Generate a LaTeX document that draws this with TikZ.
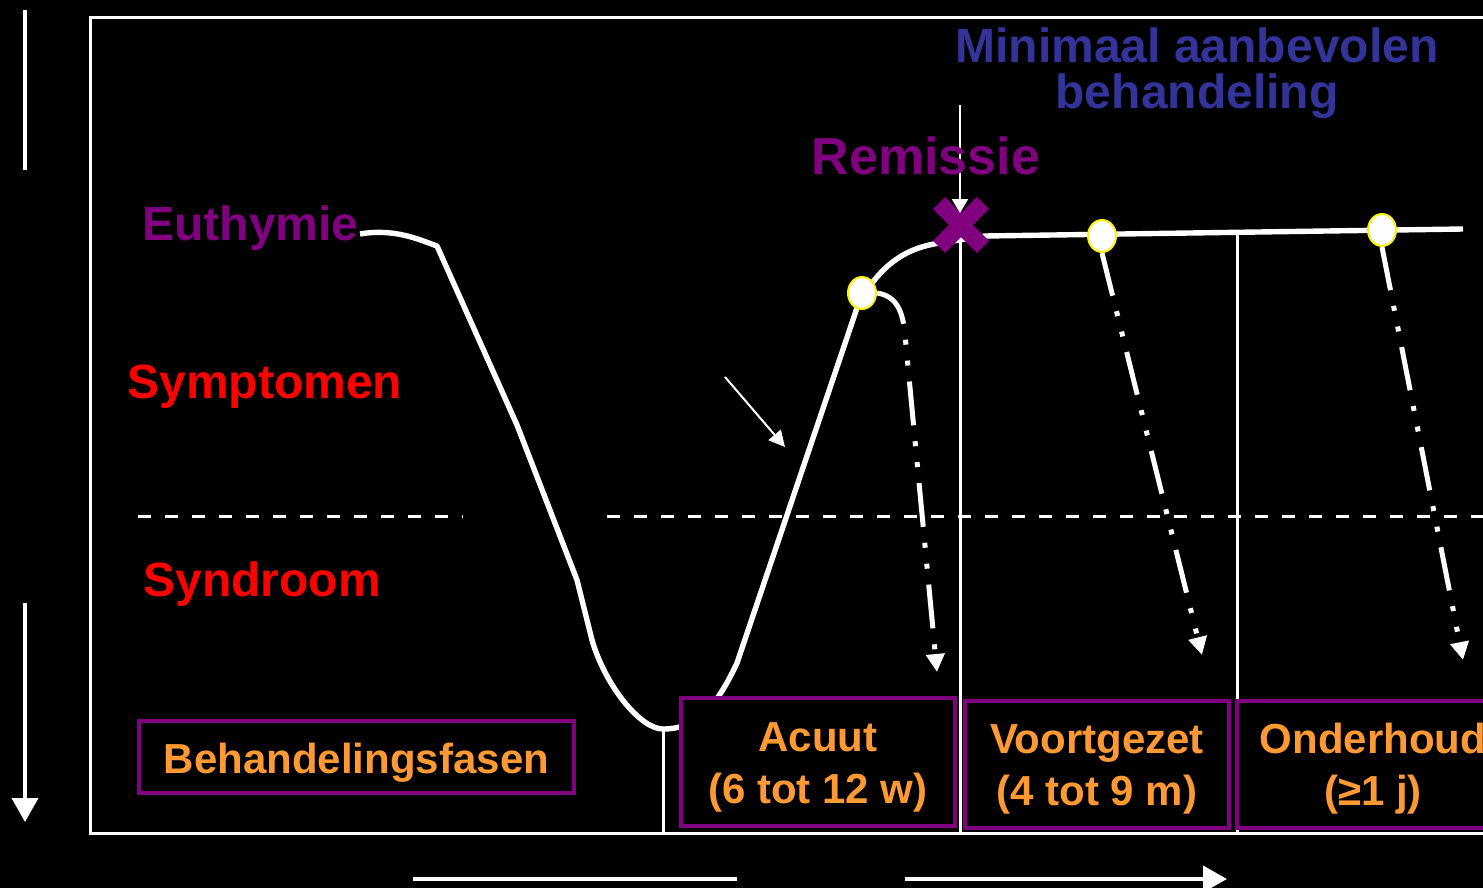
\documentclass[tikz,border=0pt]{standalone}
\usepackage{fontspec}
\setmainfont{Liberation Sans}
\usetikzlibrary{arrows.meta,positioning,shapes.geometric,shapes.misc}
\definecolor{paars}{HTML}{800080}
\definecolor{rood}{HTML}{FF0000}
\definecolor{blauw}{HTML}{333399}
\definecolor{oranje}{HTML}{FF9933}
\newcommand{\fasetekst}[2]{\raisebox{-2.5pt}[\height][\depth]{\begin{tabular}{@{}c@{}}#1\\#2\end{tabular}}}
\tikzset{
  fasebox/.style={draw=paars,fill=black,line width=2pt,text=oranje,inner sep=0pt,
    font=\fontsize{21}{26}\selectfont\bfseries},
  kop/.style={font=\fontsize{24}{23}\selectfont\bfseries,inner sep=0pt},
  punt/.style={ellipse,draw=yellow,fill=white,line width=1pt,minimum width=14pt,minimum height=16pt,inner sep=0pt},
  stippel/.style={white,line width=2.5pt,dash pattern=on 22pt off 8pt on 2.5pt off 8pt on 2.5pt off 8pt,
    -{Triangle[width=9pt,length=9pt]}},
  lijn/.style={white,line width=1.5pt},
  as/.style={white,line width=2pt}
}
\begin{document}
\begin{tikzpicture}[x=0.5pt,y=-0.5pt]
  \fill[black] (0,0) rectangle (1483,888);
  \useasboundingbox (0,0) rectangle (1483,888);
  % kader, assen en hulplijnen
  \draw[lijn] (1520,18) -- (90,18) -- (90,833) -- (1520,833);
  \draw[as] (25,10) -- (25,170);
  \draw[as,-{Triangle[width=13pt,length=12pt]}] (25,603) -- (25,822);
  \draw[as] (413,879) -- (737,879);
  \draw[as,-{Triangle[width=13pt,length=12pt]}] (905,879) -- (1227,879);
  \draw[lijn,dash pattern=on 6.5pt off 7pt] (138,516) -- (463,516);
  \draw[lijn,dash pattern=on 6.5pt off 7pt] (607,516) -- (1483,516);
  \draw[lijn] (663,730) -- (663,833);
  \draw[lijn] (960,240) -- (960,833);
  \draw[lijn] (1237,234) -- (1237,833);
  % verloop
  \draw[white,line width=2.7pt,line join=round] (360,234) .. controls (395,228) and (420,240) .. (437,246)
    -- (517,425) -- (577,580) -- (592,640) .. controls (605,685) and (640,729) .. (663,729)
    .. controls (695,729) and (715,710) .. (737,663) -- (858,305)
    .. controls (880,265) and (905,248) .. (940,243) -- (985,236) -- (1463,229);
  \node (punt1) [punt] at (862,293) {};
  \node (punt2) [punt] at (1102,236) {};
  \node (punt3) [punt] at (1382,230) {};
  \coordinate (kop1) at (937,672);
  \coordinate (kop2) at (1202,655);
  \coordinate (kop3) at (1463,660);
  \draw[stippel] (punt1.east) .. controls (897,296) and (903,312) .. (905,335) -- (kop1);
  \draw[stippel] (punt2.south) -- (kop2);
  \draw[stippel] (punt3.south) -- (kop3);
  \coordinate (pijlstart) at (725,377);
  \coordinate (pijleind) at (785,447);
  \draw[white,line width=1pt,-{Triangle[width=8pt,length=8pt]}] (pijlstart) -- (pijleind);
  % remissie
  \node (kruis) [cross out,draw=paars,line width=8.5pt,minimum size=22pt,inner sep=0pt,outer sep=0pt] at (961,225) {};
  \coordinate (remtop) at (960,105);
  \coordinate (rempunt) at (960,213);
  \draw[white,line width=1pt,-{Triangle[width=8pt,length=7pt]}] (remtop) -- (rempunt);
  % teksten
  \node (minimaal) [kop,text=blauw,align=center,anchor=base] at (1197,109) {Minimaal aanbevolen\\behandeling};
  \node (remissie) [kop,text=paars,font=\fontsize{26}{26}\selectfont\bfseries,anchor=base] at (926,174) {Remissie};
  \node (euthymie) [kop,text=paars,anchor=base west] at (142,240) {Euthymie};
  \node (symptomen) [kop,text=rood,anchor=base west] at (127,398) {Symptomen};
  \node (syndroom) [kop,text=rood,anchor=base west] at (143,596) {Syndroom};
  % fasen
  \node (fasen) [fasebox,minimum width=217.5pt,minimum height=36pt] at (356.5,757) {\rule{0pt}{20.5pt}Behandelingsfasen};
  \node (acuut) [fasebox,minimum width=137pt,minimum height=64pt] at (818,762) {\fasetekst{Acuut}{(6 tot 12 w)}};
  \node (voortgezet) [fasebox,minimum width=132pt,minimum height=63.5pt] at (1097,764.5) {\fasetekst{Voortgezet}{(4 tot 9 m)}};
  \node (onderhoud) [fasebox,minimum width=136pt,minimum height=63.5pt] at (1373,764.5) {\fasetekst{Onderhoud}{(≥1 j)}};
\end{tikzpicture}
\end{document}
